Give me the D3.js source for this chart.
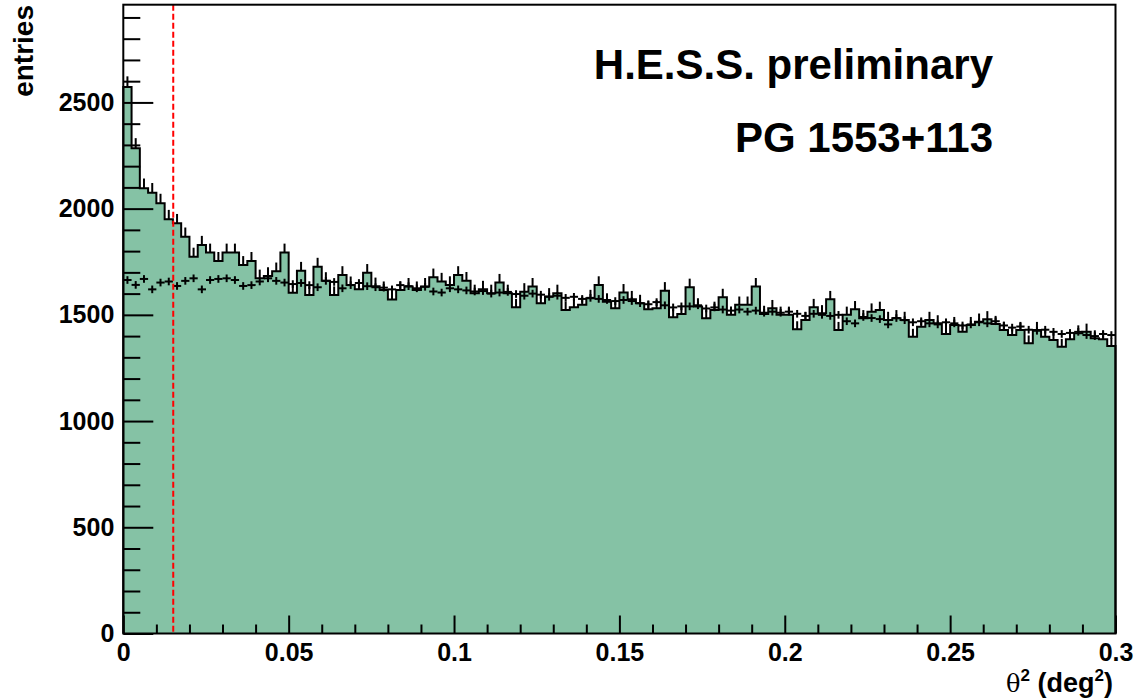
<!DOCTYPE html>
<html>
<head>
<meta charset="utf-8">
<script src="https://cdn.jsdelivr.net/npm/d3@7"></script>
<style>
  html, body { margin: 0; padding: 0; background: #fff; }
  svg { display: block; }
  text { font-family: "Liberation Sans", Arial, Helvetica, sans-serif; font-weight: bold; fill: #000; }
</style>
</head>
<body>
<svg id="chart" width="1148" height="700"></svg>
<script>
// ---------------- data ----------------
const binWidth = 0.0025;           // deg^2
const xDomain = [0, 0.3];
const yDomain = [0, 2960];
const cutValue = 0.0151;           // theta^2 cut (red dashed line)

// ON-source counts per bin
const onCounts = [
  2572,2284,2096,2075,2025,1950,1931,1868,1774,1829,1793,1754,1793,1793,1735,1754,1672,1683,1705,1793,
  1604,1708,1594,1727,1660,1594,1688,1640,1620,1698,1635,1617,1572,1617,1633,1617,1633,1677,1657,1641,
  1688,1661,1602,1620,1602,1652,1602,1536,1609,1633,1555,1586,1602,1523,1536,1547,1578,1641,1562,1531,
  1605,1573,1555,1526,1531,1614,1489,1504,1630,1539,1484,1523,1583,1500,1547,1547,1633,1504,1531,1500,
  1500,1432,1476,1536,1507,1573,1429,1500,1526,1484,1515,1523,1476,1484,1476,1397,1444,1476,1460,1410,
  1452,1421,1452,1468,1479,1457,1429,1405,1429,1366,1429,1397,1382,1350,1385,1413,1421,1390,1385,1353
];
// OFF (background) normalised counts per bin
const offCounts = [
  1664,1641,1669,1620,1652,1657,1636,1660,1672,1620,1664,1669,1672,1664,1636,1640,1657,1672,1660,1652,
  1645,1650,1640,1630,1660,1655,1625,1640,1650,1635,1630,1628,1620,1640,1635,1625,1632,1610,1605,1625,
  1620,1615,1610,1612,1600,1605,1608,1598,1590,1600,1595,1585,1590,1580,1585,1575,1580,1575,1570,1565,
  1570,1565,1555,1550,1560,1545,1535,1540,1540,1545,1530,1535,1525,1520,1525,1515,1520,1510,1515,1510,
  1515,1505,1495,1505,1500,1495,1500,1470,1460,1490,1485,1480,1455,1485,1475,1465,1470,1460,1455,1465,
  1460,1450,1455,1465,1460,1470,1450,1440,1445,1430,1425,1430,1420,1410,1415,1420,1405,1400,1410,1405
];
const offErr = 18;                 // error on the normalised OFF counts

const xMajorTicks = [0, 0.05, 0.1, 0.15, 0.2, 0.25, 0.3];
const xTickLabels = ["0", "0.05", "0.1", "0.15", "0.2", "0.25", "0.3"];
const yMajorTicks = [0, 500, 1000, 1500, 2000, 2500];
const yTickLabels = ["0", "500", "1000", "1500", "2000", "2500"];

// ---------------- layout ----------------
const svg = d3.select("#chart");
const L = 123.3, R = 1115.5, B = 633.5, T = 4.7;
const x = d3.scaleLinear().domain(xDomain).range([L, R]);
const y = d3.scaleLinear().domain(yDomain).range([B, T]);
const fillColor = "#85c2a5";

const bins = onCounts.map((v, i) => ({ lo: i * binWidth, hi: (i + 1) * binWidth, on: v, off: offCounts[i] }));

// filled histogram
const stepPts = [[xDomain[0], 0]];
bins.forEach(b => { stepPts.push([b.lo, b.on]); stepPts.push([b.hi, b.on]); });
stepPts.push([bins[bins.length - 1].hi, 0]);

const line = d3.line().x(d => x(d[0])).y(d => y(d[1]));
svg.append("path").attr("d", line(stepPts) + "Z").attr("fill", fillColor).attr("stroke", "none");
svg.append("path").attr("d", line(stepPts)).attr("fill", "none")
  .attr("stroke", "#000").attr("stroke-width", 2).attr("stroke-linejoin", "miter");

// ON error bars (upper halves visible)
svg.append("g").selectAll("line").data(bins).join("line")
  .attr("x1", d => x((d.lo + d.hi) / 2)).attr("x2", d => x((d.lo + d.hi) / 2))
  .attr("y1", d => y(d.on)).attr("y2", d => y(d.on + Math.sqrt(d.on)))
  .attr("stroke", "#000").attr("stroke-width", 2);

// OFF points: crosses
const offG = svg.append("g");
offG.selectAll("line.h").data(bins).join("line").attr("class", "h")
  .attr("x1", d => x(d.lo)).attr("x2", d => x(d.hi))
  .attr("y1", d => y(d.off)).attr("y2", d => y(d.off))
  .attr("stroke", "#000").attr("stroke-width", 2);
offG.selectAll("line.v").data(bins).join("line").attr("class", "v")
  .attr("x1", d => x((d.lo + d.hi) / 2)).attr("x2", d => x((d.lo + d.hi) / 2))
  .attr("y1", d => y(d.off - offErr)).attr("y2", d => y(d.off + offErr))
  .attr("stroke", "#000").attr("stroke-width", 2);

// red dashed cut line
svg.append("line")
  .attr("x1", x(cutValue)).attr("x2", x(cutValue))
  .attr("y1", y(yDomain[1])).attr("y2", y(0))
  .attr("stroke", "#ff0000").attr("stroke-width", 2).attr("stroke-dasharray", "6,3");

// frame
svg.append("rect").attr("x", L).attr("y", T).attr("width", R - L).attr("height", B - T)
  .attr("fill", "none").attr("stroke", "#000").attr("stroke-width", 2);

// y axis
const yMinor = d3.range(0, yDomain[1], 100).filter(v => v % 500 !== 0);
const yAxisMinor = svg.append("g").attr("transform", `translate(${L},0)`)
  .call(d3.axisLeft(y).tickValues(yMinor).tickSize(-17).tickFormat(""));
const yAxis = svg.append("g").attr("transform", `translate(${L},0)`)
  .call(d3.axisLeft(y).tickValues(yMajorTicks).tickSize(-30).tickPadding(9)
    .tickFormat((d, i) => yTickLabels[i]));

// x axis
const xMinor = d3.range(0, 31).map(i => i / 100).filter((v, i) => i % 5 !== 0);
const xAxisMinor = svg.append("g").attr("transform", `translate(0,${B})`)
  .call(d3.axisBottom(x).tickValues(xMinor).tickSize(-9).tickFormat(""));
const xAxis = svg.append("g").attr("transform", `translate(0,${B})`)
  .call(d3.axisBottom(x).tickValues(xMajorTicks).tickSize(-18).tickPadding(9)
    .tickFormat((d, i) => xTickLabels[i]));

[yAxisMinor, yAxis, xAxisMinor, xAxis].forEach(g => {
  g.select(".domain").remove();
  g.selectAll(".tick line").attr("stroke", "#000").attr("stroke-width", 2);
  g.selectAll(".tick text").attr("font-size", 25).attr("font-family", "Liberation Sans, Arial, sans-serif")
    .attr("font-weight", "bold").attr("fill", "#000");
});
yAxis.selectAll(".tick text").attr("x", -9);
xAxis.selectAll(".tick text").attr("y", 9).attr("dy", "0.72em");

// axis titles
const xt = svg.append("text").attr("x", 1113).attr("y", 692).attr("text-anchor", "end").attr("font-size", 27);
xt.append("tspan").attr("font-weight", "normal").attr("font-family", "DejaVu Serif, serif").attr("font-size", 24).text("θ");
xt.append("tspan").attr("font-size", 17).attr("dy", -11).text("2");
xt.append("tspan").attr("dy", 11).text(" (deg");
xt.append("tspan").attr("font-size", 17).attr("dy", -11).text("2");
xt.append("tspan").attr("dy", 11).text(")");

svg.append("text").attr("transform", "translate(33,5) rotate(-90)")
  .attr("text-anchor", "end").attr("font-size", 28).text("entries");

// labels
svg.append("text").attr("x", 993).attr("y", 79).attr("text-anchor", "end")
  .attr("font-size", 42).text("H.E.S.S. preliminary");
svg.append("text").attr("x", 993).attr("y", 152).attr("text-anchor", "end")
  .attr("font-size", 42).text("PG 1553+113");
</script>
</body>
</html>
